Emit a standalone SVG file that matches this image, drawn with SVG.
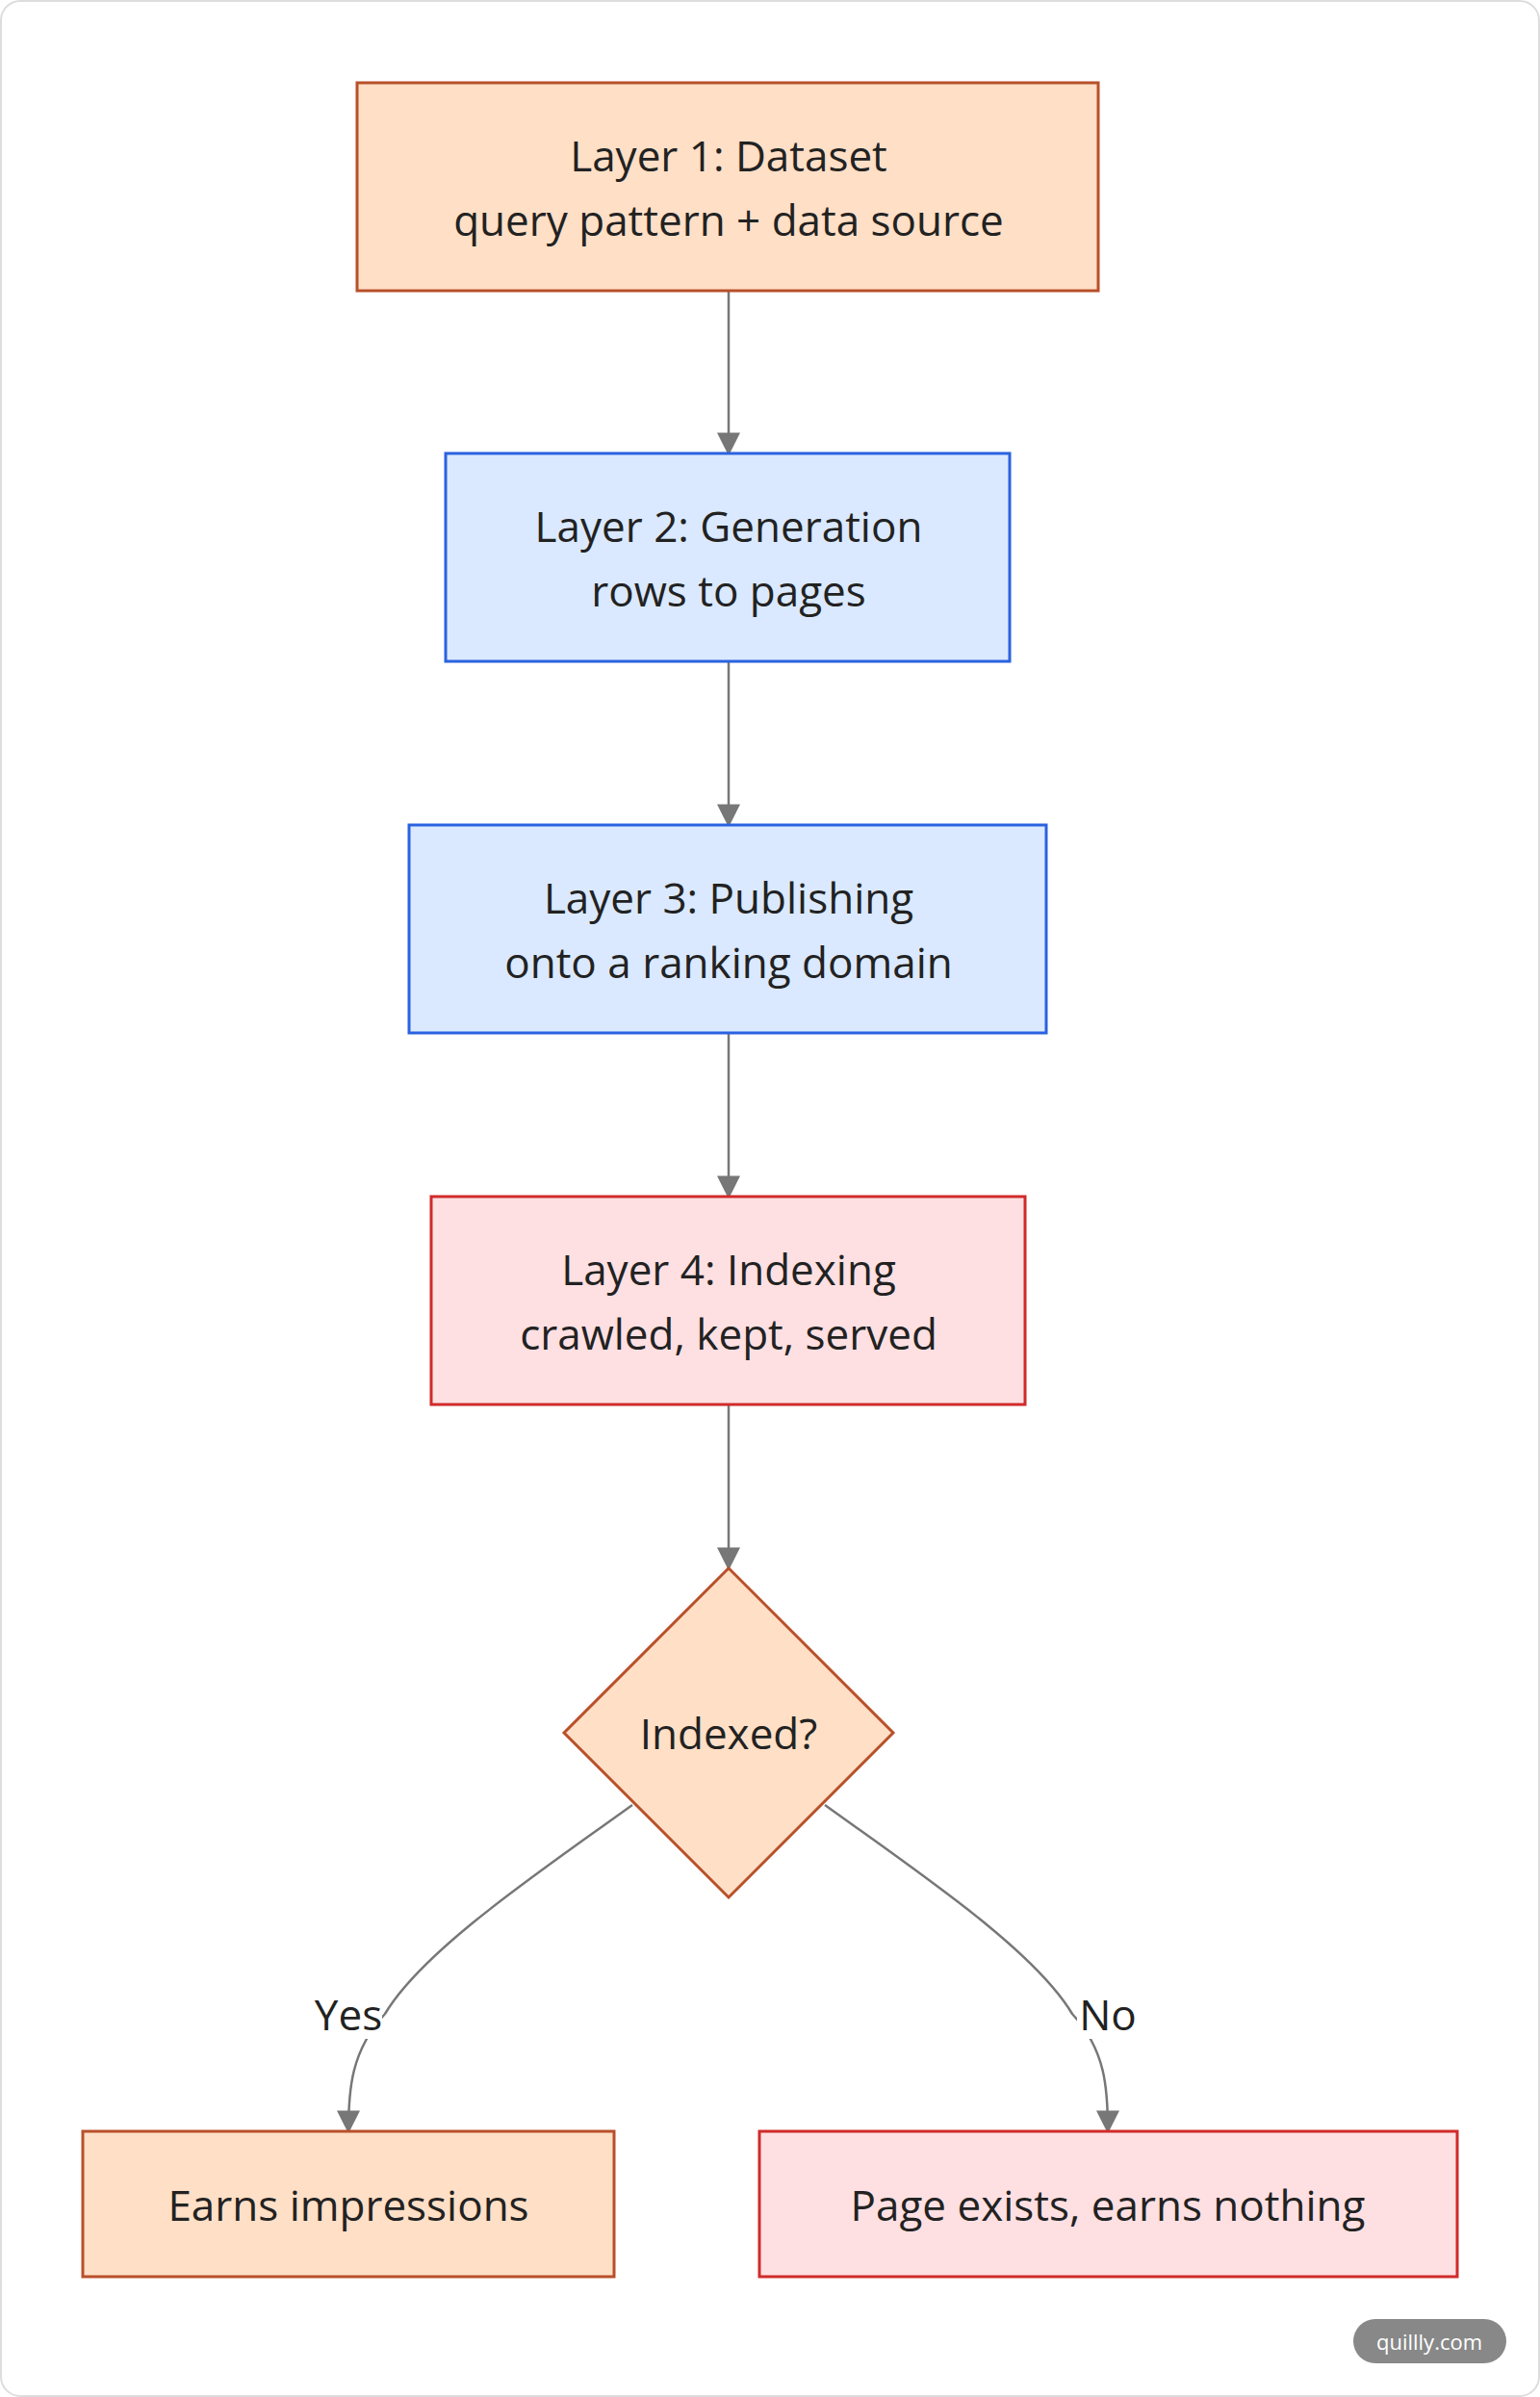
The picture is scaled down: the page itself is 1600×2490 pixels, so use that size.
<svg xmlns="http://www.w3.org/2000/svg" width="1600" height="2490" viewBox="0 0 1600 2490">
<style>
text{font-family:"Open Sans","Noto Sans","Liberation Sans",sans-serif;font-size:44px;fill:#222;text-anchor:middle;dominant-baseline:central}
.o{fill:#ffdfc6;stroke:#b8502a;stroke-width:3}
.b{fill:#dae9ff;stroke:#2a62e0;stroke-width:3}
.r{fill:#ffe0e2;stroke:#d02a2a;stroke-width:3}
.e{fill:none;stroke:#777;stroke-width:2.5}
</style>
<defs><marker id="a" viewBox="0 0 10 10" refX="9" refY="5" markerWidth="8" markerHeight="8" markerUnits="userSpaceOnUse" orient="auto"><path d="M0,0L10,5L0,10z" fill="#777"/></marker>
<marker id="m" viewBox="0 0 10 10" refX="9" refY="5" markerWidth="24" markerHeight="24" markerUnits="userSpaceOnUse" orient="auto"><path d="M0,0L10,5L0,10z" fill="#777"/></marker></defs>
<rect x="1" y="1" width="1598" height="2488" rx="20" fill="#fff" stroke="#ddd" stroke-width="2"/>
<g id="edges">
<path class="e" d="M757,302V471" marker-end="url(#m)"/>
<path class="e" d="M757,687V857" marker-end="url(#m)"/>
<path class="e" d="M757,1073V1243" marker-end="url(#m)"/>
<path class="e" d="M757,1459V1629" marker-end="url(#m)"/>
<path class="e" d="M657,1875C560,1945 440,2025 400,2092C365,2130 362,2170 362,2214" marker-end="url(#m)"/>
<path class="e" d="M857,1875C954,1945 1074,2025 1114,2092C1149,2130 1151,2170 1151,2214" marker-end="url(#m)"/>
<rect x="327" y="2066" width="70" height="52" fill="#fff"/><text x="362" y="2092">Yes</text>
<rect x="1119" y="2066" width="64" height="52" fill="#fff"/><text x="1151" y="2092">No</text>
</g>
<g id="n1"><rect class="o" x="371" y="86" width="770" height="216"/><text x="757" y="161">Layer 1: Dataset</text><text x="757" y="228">query pattern + data source</text></g>
<g id="n2"><rect class="b" x="463" y="471" width="586" height="216"/><text x="757" y="546">Layer 2: Generation</text><text x="757" y="613">rows to pages</text></g>
<g id="n3"><rect class="b" x="425" y="857" width="662" height="216"/><text x="757" y="932">Layer 3: Publishing</text><text x="757" y="999">onto a ranking domain</text></g>
<g id="n4"><rect class="r" x="448" y="1243" width="617" height="216"/><text x="757" y="1318">Layer 4: Indexing</text><text x="757" y="1385">crawled, kept, served</text></g>
<g id="d"><path class="o" d="M757,1629L928,1800L757,1971L586,1800z"/><text x="757" y="1800">Indexed?</text></g>
<g id="yes"><rect class="o" x="86" y="2214" width="552" height="151"/><text x="362" y="2290">Earns impressions</text></g>
<g id="no"><rect class="r" x="789" y="2214" width="725" height="151"/><text x="1151" y="2290">Page exists, earns nothing</text></g>
<g id="wm"><rect x="1406" y="2409" width="159" height="46" rx="23" fill="#888"/><text x="1485" y="2432" style="font-size:22px;fill:#fff">quillly.com</text></g>
</svg>
